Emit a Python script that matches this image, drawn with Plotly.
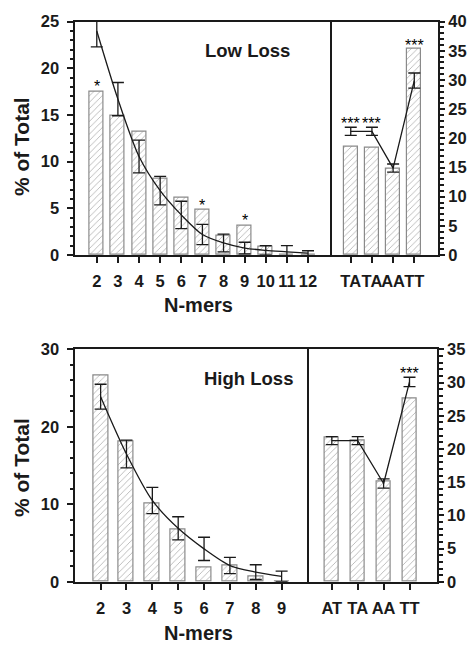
import plotly.graph_objects as go

W, H = 472, 655

# ---- Low loss: N-mer distribution ----
low_n = [2, 3, 4, 5, 6, 7, 8, 9, 10, 11, 12]
low_bars = [17.5, 14.9, 13.2, 8.2, 6.2, 4.85, 2.05, 3.1, 0.87, 0.0, 0.0]
low_mean = [24.0, 16.7, 10.55, 6.9, 4.3, 2.2, 1.3, 0.75, 0.5, 0.35, 0.2]
low_err = [1.7, 1.78, 1.75, 1.53, 1.46, 1.08, 0.95, 0.62, 0.5, 0.65, 0.26]
low_stars_n = [2, 7, 9]
low_stars_y = [18.5, 5.75, 4.1]

# ---- Low loss: dinucleotides ----
low_di_pos = [1, 2, 3, 4]
low_di_labels = ["TA", "TA", "AA", "TT"]
low_di_bars = [18.55, 18.4, 14.8, 35.4]
low_di_mean = [21.2, 21.2, 14.9, 29.9]
low_di_err = [0.7, 0.7, 0.7, 1.3]
low_di_stars_pos = [1, 2, 4]
low_di_stars_y = [23.3, 23.3, 36.6]

# ---- High loss: N-mer distribution ----
high_n = [2, 3, 4, 5, 6, 7, 8, 9]
high_bars = [26.7, 18.1, 10.15, 6.8, 1.8, 2.13, 0.75, 0.0]
high_mean = [23.9, 16.5, 10.5, 6.9, 4.25, 2.1, 1.25, 0.7]
high_err = [1.6, 1.8, 1.7, 1.5, 1.5, 1.05, 0.95, 0.68]

# ---- High loss: dinucleotides ----
high_di_pos = [1, 2, 3, 4]
high_di_labels = ["AT", "TA", "AA", "TT"]
high_di_bars = [21.75, 21.26, 15.16, 27.6]
high_di_mean = [21.26, 21.26, 14.8, 30.1]
high_di_err = [0.6, 0.6, 0.7, 0.7]
high_di_stars_pos = [4]
high_di_stars_y = [31.9]


def px(x):
    return x / W


def py(y):
    return 1 - y / H


FONT = "Liberation Sans"
INK = "#1a1a1a"
BAR_EDGE = "#8a8a8a"
HATCH = "#6e6e6e"

fig = go.Figure()


def bar_marker():
    return dict(color="white",
                line=dict(color=BAR_EDGE, width=1.2),
                pattern=dict(shape="/", fgcolor=HATCH, bgcolor="white",
                             size=4.5, solidity=0.2))


def add_panel(xs, bars, means, errs, xa, ya, width, smooth):
    fig.add_trace(go.Bar(
        x=xs, y=bars, width=width, xaxis=xa, yaxis=ya,
        marker=bar_marker(), showlegend=False, hoverinfo="skip"))
    line = dict(color=INK, width=1.3)
    if smooth:
        line.update(shape="spline", smoothing=0.8)
    fig.add_trace(go.Scatter(
        x=xs, y=means, xaxis=xa, yaxis=ya, mode="lines", line=line,
        error_y=dict(type="data", array=errs, visible=True,
                     color=INK, thickness=1.3, width=6),
        showlegend=False, hoverinfo="skip"))


add_panel(low_n, low_bars, low_mean, low_err, "x", "y", 0.66, True)
add_panel(low_di_pos, low_di_bars, low_di_mean, low_di_err, "x2", "y2", 0.68, False)
add_panel(high_n, high_bars, high_mean, high_err, "x3", "y3", 0.58, True)
add_panel(high_di_pos, high_di_bars, high_di_mean, high_di_err, "x4", "y4", 0.55, False)

tickfont = dict(family=FONT, size=16.5, color=INK, weight="bold")

common_x = dict(showline=True, linecolor=INK, linewidth=2, mirror=True,
                ticks="outside", ticklen=6, tickwidth=2, tickcolor=INK,
                tickfont=tickfont, showgrid=False, zeroline=False,
                fixedrange=True, ticklabelstandoff=4, tickangle=0)
common_y = dict(showline=True, linecolor=INK, linewidth=2,
                ticks="outside", ticklen=6, tickwidth=2, tickcolor=INK,
                tickfont=tickfont, showgrid=False, zeroline=False,
                fixedrange=True)

top_y0, top_y1 = 13, 253
bot_y0, bot_y1 = 350, 589

fig.update_layout(
    width=W, height=H, margin=dict(l=0, r=0, t=0, b=0),
    paper_bgcolor="white", plot_bgcolor="white", bargap=0,
    xaxis=dict(common_x, domain=[px(74.5), px(330)], range=[0.945, 13.04],
               tickmode="array", tickvals=low_n,
               ticktext=[str(n) for n in low_n], anchor="y"),
    yaxis=dict(common_y, domain=[py(top_y1), py(top_y0)], range=[0, 25],
               tickmode="linear", tick0=0, dtick=5, anchor="x",
               mirror=True, ticklabelstandoff=4,
               minor=dict(dtick=1, ticks="outside", ticklen=3,
                          tickwidth=1.5, tickcolor=INK)),
    xaxis2=dict(common_x, domain=[px(330), px(438)], range=[0.02, 5.12],
                tickmode="array", tickvals=low_di_pos,
                ticktext=low_di_labels, anchor="y2"),
    yaxis2=dict(common_y, domain=[py(top_y1), py(top_y0)], range=[0, 40],
                side="right", tickmode="linear", tick0=0, dtick=5,
                anchor="x2", ticklen=5, mirror=False,
                minor=dict(dtick=1, ticks="outside", ticklen=4,
                           tickwidth=1.5, tickcolor=INK)),
    xaxis3=dict(common_x, domain=[px(74.5), px(306.7)], range=[0.99, 9.97],
                tickmode="array", tickvals=high_n,
                ticktext=[str(n) for n in high_n], anchor="y3"),
    yaxis3=dict(common_y, domain=[py(bot_y1), py(bot_y0)], range=[0, 30],
                tickmode="linear", tick0=0, dtick=10, anchor="x3",
                mirror=True, ticklabelstandoff=4,
                minor=dict(dtick=2, ticks="outside", ticklen=3,
                           tickwidth=1.5, tickcolor=INK)),
    xaxis4=dict(common_x, domain=[px(306.7), px(436.7)], range=[0.03, 5.05],
                tickmode="array", tickvals=high_di_pos,
                ticktext=high_di_labels, anchor="y4"),
    yaxis4=dict(common_y, domain=[py(bot_y1), py(bot_y0)], range=[0, 35],
                side="right", tickmode="linear", tick0=0, dtick=5,
                anchor="x4", ticklen=5, mirror=False,
                minor=dict(dtick=1, ticks="outside", ticklen=4,
                           tickwidth=1.5, tickcolor=INK)),
)

annotations = []
title_font = dict(family=FONT, size=21, color=INK, weight="bold")

# axis titles
for yc in (142, 472):
    annotations.append(dict(text="% of Total", x=px(21), y=py(yc),
                            xref="paper", yref="paper", textangle=-90,
                            showarrow=False, font=title_font,
                            xanchor="center", yanchor="middle"))
for yc in (304, 642):
    annotations.append(dict(text="N-mers", x=px(198), y=py(yc),
                            xref="paper", yref="paper", showarrow=False,
                            font=dict(family=FONT, size=20, color=INK,
                                      weight="bold"),
                            xanchor="center", yanchor="middle"))

# panel labels
label_font = dict(family=FONT, size=18.5, color=INK, weight="bold")
annotations.append(dict(text="Low Loss", x=px(247), y=py(43),
                        xref="paper", yref="paper", showarrow=False,
                        font=label_font, xanchor="center", yanchor="middle"))
annotations.append(dict(text="High Loss", x=px(248), y=py(380),
                        xref="paper", yref="paper", showarrow=False,
                        font=label_font, xanchor="center", yanchor="middle"))

# significance markers
star_font = dict(family=FONT, size=16, color="#000000")
for xv, yv in zip(low_stars_n, low_stars_y):
    annotations.append(dict(text="*", x=xv, y=yv, xref="x", yref="y",
                            showarrow=False, font=star_font,
                            yanchor="middle", yshift=-4))
for xv, yv in zip(low_di_stars_pos, low_di_stars_y):
    annotations.append(dict(text="***", x=xv, y=yv, xref="x2", yref="y2",
                            showarrow=False, font=star_font,
                            yanchor="middle", yshift=-4))
for xv, yv in zip(high_di_stars_pos, high_di_stars_y):
    annotations.append(dict(text="***", x=xv, y=yv, xref="x4", yref="y4",
                            showarrow=False, font=star_font,
                            yanchor="middle", yshift=-4))

fig.update_layout(annotations=annotations)

fig.write_html("out.html")
